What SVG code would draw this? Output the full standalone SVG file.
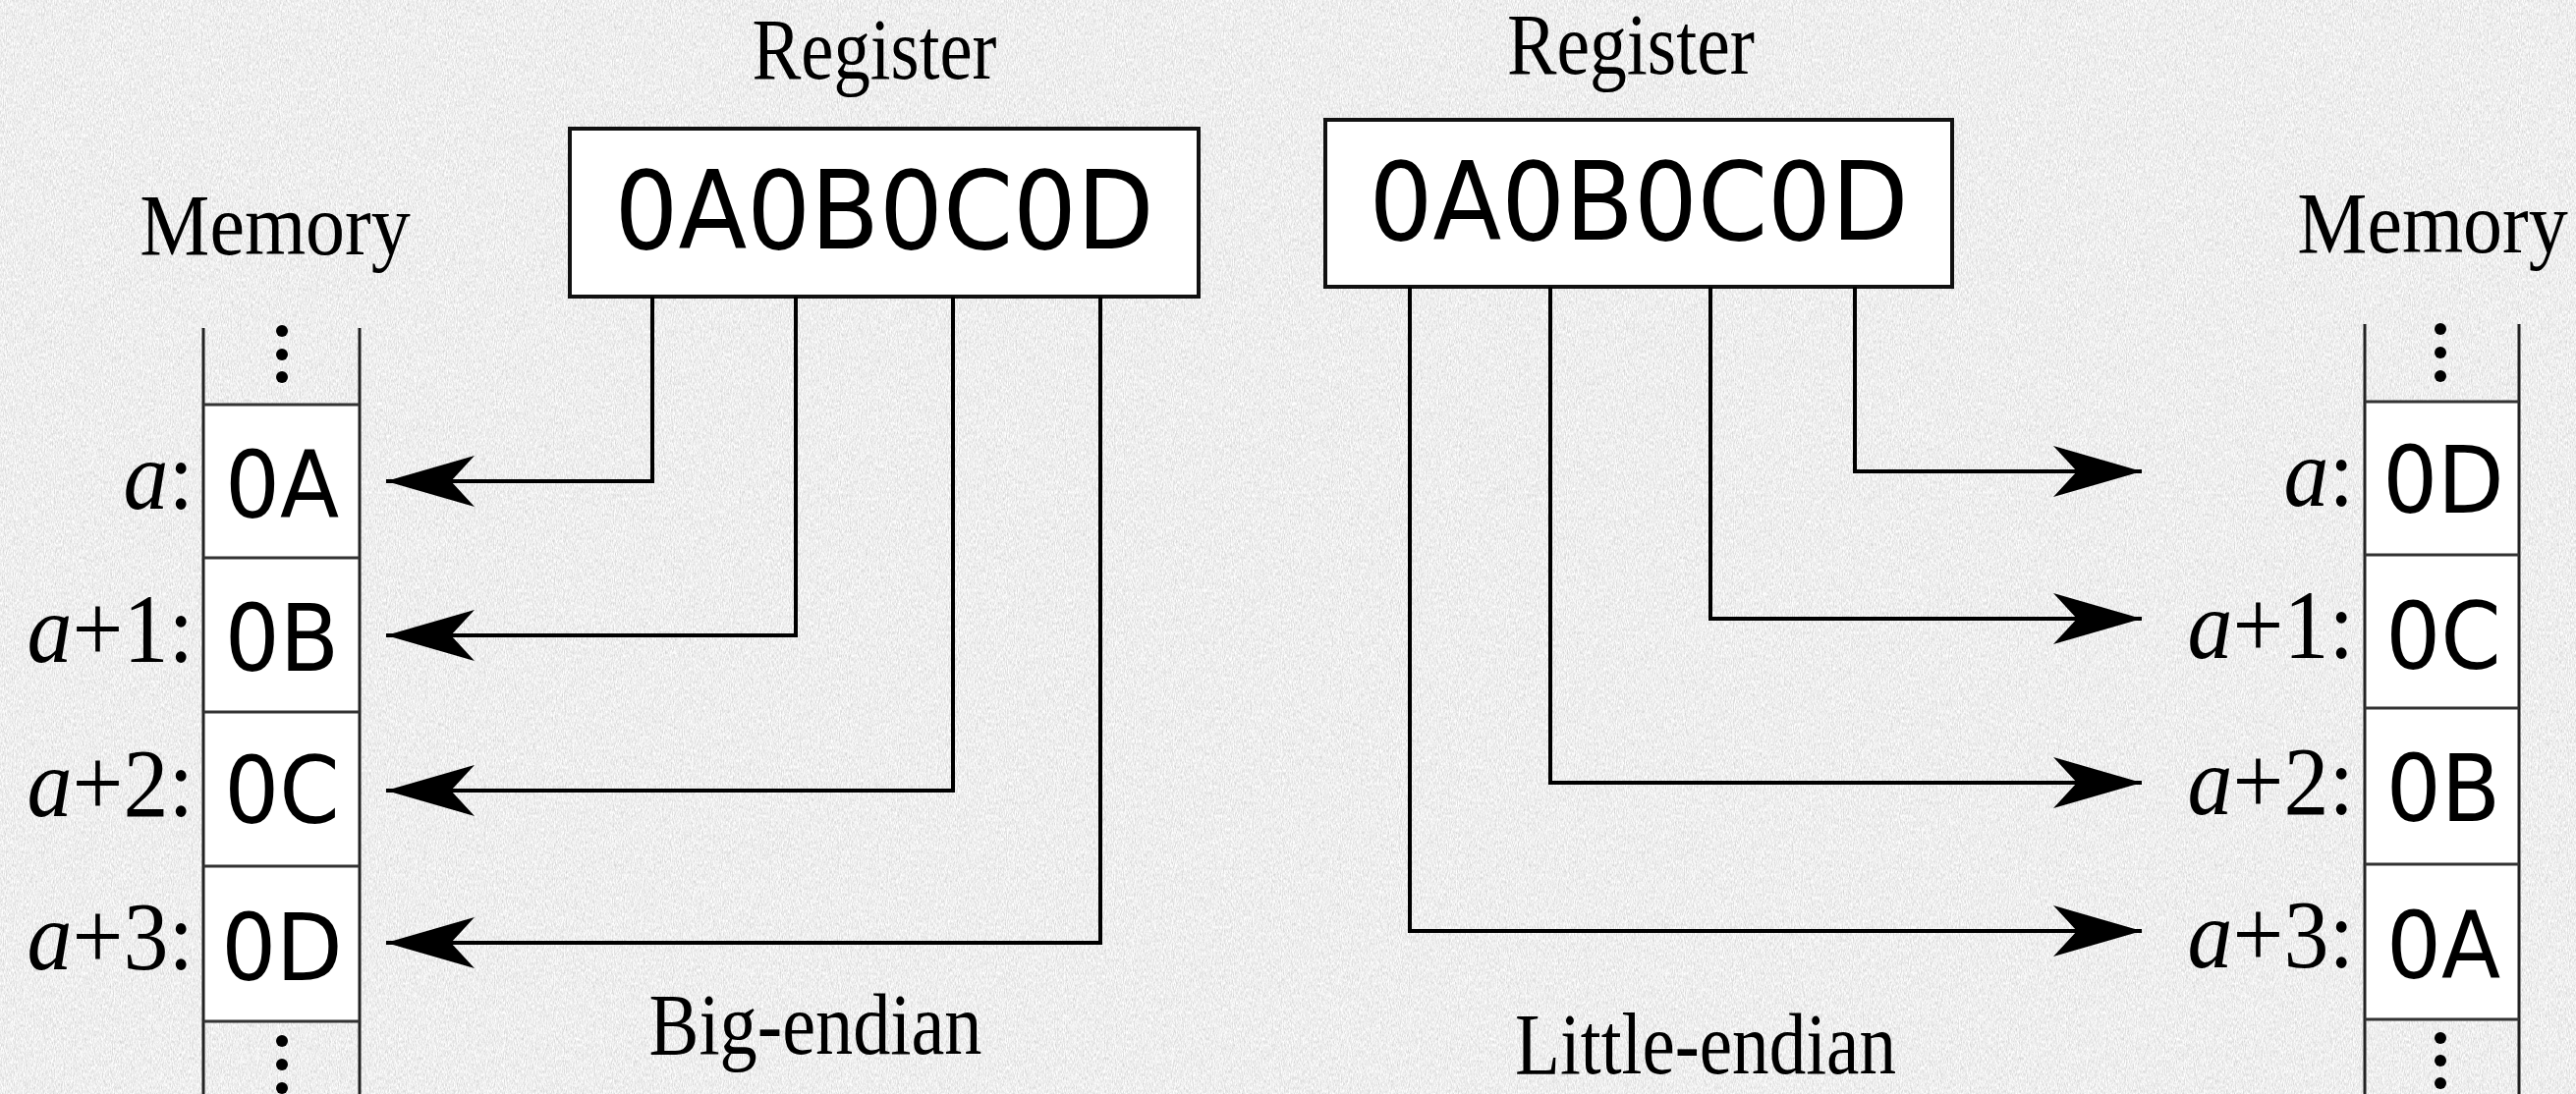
<svg xmlns="http://www.w3.org/2000/svg" width="2622" height="1114" viewBox="0 0 2622 1114">
<style>
.serif{font-family:"Liberation Serif","Times New Roman",serif;fill:#000}
.lbl{font-size:92px;text-anchor:end}
.title{font-size:80px;text-anchor:middle}
.sans{font-family:"DejaVu Sans",sans-serif;fill:#000;text-anchor:middle}
.cell{font-size:88px}
.reg{font-size:102px}
.box{fill:#fff;stroke:#111;stroke-width:4}
.mline{stroke:#222;stroke-width:3;fill:none}
.sep{stroke:#333;stroke-width:3;fill:none}
.conn{stroke:#000;stroke-width:4;fill:none;marker-end:url(#arr)}
</style>
<defs>
<filter id="noise" x="0" y="0" width="100%" height="100%">
<feTurbulence type="fractalNoise" baseFrequency="1.1 0.3" numOctaves="2" seed="3"/>
<feColorMatrix type="matrix" values="0.55 0 0 0 0.58  0.55 0 0 0 0.58  0.55 0 0 0 0.58  0 0 0 0 1"/>
</filter>
<marker id="arr" markerUnits="userSpaceOnUse" orient="auto" viewBox="-95 -30 100 60" refX="0" refY="0" markerWidth="100" markerHeight="60">
<path d="M0,0 L-90,-26 L-66,0 L-90,26 Z" fill="#000"/>
</marker>
</defs>
<rect width="2622" height="1114" fill="#dadada"/>
<rect width="2622" height="1114" filter="url(#noise)"/>

<g id="title-register-big"><text class="serif title" transform="translate(890,80) scale(1,1.12)" textLength="249" lengthAdjust="spacingAndGlyphs">Register</text></g>
<g id="title-register-little"><text class="serif title" transform="translate(1660,75) scale(1,1.12)" textLength="252" lengthAdjust="spacingAndGlyphs">Register</text></g>
<g id="title-memory-big"><text class="serif title" transform="translate(280,259) scale(1,1.12)">Memory</text></g>
<g id="title-memory-little"><text class="serif title" transform="translate(2476,257) scale(1,1.12)">Memory</text></g>
<g id="caption-big"><text class="serif title" style="font-size:85px" transform="translate(830,1073) scale(1,1.05)" textLength="339" lengthAdjust="spacingAndGlyphs">Big-endian</text></g>
<g id="caption-little"><text class="serif title" style="font-size:84px" transform="translate(1736,1093) scale(1,1.05)" textLength="388" lengthAdjust="spacingAndGlyphs">Little-endian</text></g>

<g id="register-big">
<rect class="box" x="580" y="131" width="640" height="171"/>
<text class="sans reg" transform="translate(900,253) scale(1,1.08)">0A0B0C0D</text>
</g>
<g id="register-little">
<rect class="box" x="1349" y="122" width="638" height="170"/>
<text class="sans reg" transform="translate(1668,244) scale(1,1.08)">0A0B0C0D</text>
</g>

<g id="memory-big">
<rect x="207" y="412" width="159" height="628" fill="#fff"/>
<line class="mline" x1="207" y1="334" x2="207" y2="1114"/>
<line class="mline" x1="366" y1="334" x2="366" y2="1114"/>
<line class="sep" x1="207" y1="412" x2="366" y2="412"/>
<line class="sep" x1="207" y1="568" x2="366" y2="568"/>
<line class="sep" x1="207" y1="725" x2="366" y2="725"/>
<line class="sep" x1="207" y1="882" x2="366" y2="882"/>
<line class="sep" x1="207" y1="1040" x2="366" y2="1040"/>
<circle cx="287" cy="337" r="6"/><circle cx="287" cy="361" r="6"/><circle cx="287" cy="384" r="6"/>
<circle cx="287" cy="1060" r="6"/><circle cx="287" cy="1084" r="6"/><circle cx="287" cy="1108" r="6"/>
<text class="sans cell" transform="translate(287,527) scale(1,1.08)">0A</text>
<text class="sans cell" transform="translate(287,683) scale(1,1.08)">0B</text>
<text class="sans cell" transform="translate(287,838) scale(1,1.08)">0C</text>
<text class="sans cell" transform="translate(287,998) scale(1,1.08)">0D</text>
<text class="serif lbl" transform="translate(197,518) scale(1,1.08)"><tspan font-style="italic">a</tspan>:</text>
<text class="serif lbl" transform="translate(197,674) scale(1,1.08)"><tspan font-style="italic">a</tspan>+1:</text>
<text class="serif lbl" transform="translate(197,831) scale(1,1.08)"><tspan font-style="italic">a</tspan>+2:</text>
<text class="serif lbl" transform="translate(197,987) scale(1,1.08)"><tspan font-style="italic">a</tspan>+3:</text>
</g>

<g id="memory-little">
<rect x="2407" y="409" width="157" height="629" fill="#fff"/>
<line class="mline" x1="2407" y1="330" x2="2407" y2="1114"/>
<line class="mline" x1="2564" y1="330" x2="2564" y2="1114"/>
<line class="sep" x1="2407" y1="409" x2="2564" y2="409"/>
<line class="sep" x1="2407" y1="565" x2="2564" y2="565"/>
<line class="sep" x1="2407" y1="721" x2="2564" y2="721"/>
<line class="sep" x1="2407" y1="880" x2="2564" y2="880"/>
<line class="sep" x1="2407" y1="1038" x2="2564" y2="1038"/>
<circle cx="2484" cy="335" r="6"/><circle cx="2484" cy="359" r="6"/><circle cx="2484" cy="383" r="6"/>
<circle cx="2484" cy="1057" r="6"/><circle cx="2484" cy="1080" r="6"/><circle cx="2484" cy="1103" r="6"/>
<text class="sans cell" transform="translate(2487,522) scale(1,1.08)">0D</text>
<text class="sans cell" transform="translate(2487,681) scale(1,1.08)">0C</text>
<text class="sans cell" transform="translate(2487,836) scale(1,1.08)">0B</text>
<text class="sans cell" transform="translate(2487,996) scale(1,1.08)">0A</text>
<text class="serif lbl" transform="translate(2396,515) scale(1,1.08)"><tspan font-style="italic">a</tspan>:</text>
<text class="serif lbl" transform="translate(2396,670) scale(1,1.08)"><tspan font-style="italic">a</tspan>+1:</text>
<text class="serif lbl" transform="translate(2396,829) scale(1,1.08)"><tspan font-style="italic">a</tspan>+2:</text>
<text class="serif lbl" transform="translate(2396,985) scale(1,1.08)"><tspan font-style="italic">a</tspan>+3:</text>
</g>

<g id="connectors">
<path class="conn" d="M664,302 V490 H393"/>
<path class="conn" d="M810,302 V647 H393"/>
<path class="conn" d="M970,302 V805 H393"/>
<path class="conn" d="M1120,302 V960 H393"/>
<path class="conn" d="M1888,292 V480 H2180"/>
<path class="conn" d="M1741,292 V630 H2180"/>
<path class="conn" d="M1578,292 V797 H2180"/>
<path class="conn" d="M1435,292 V948 H2180"/>
</g>
</svg>
